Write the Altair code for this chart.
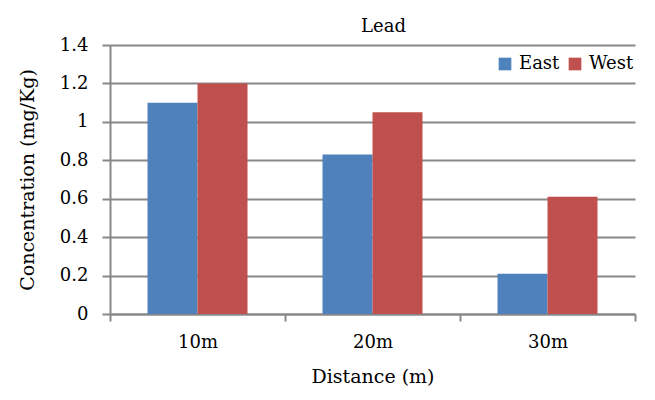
import altair as alt
import pandas as pd

distances = ["10m", "20m", "30m"]
east = [1.10, 0.83, 0.21]
west = [1.20, 1.05, 0.61]
series = ["East", "West"]
colors = ["#4F81BD", "#C0504D"]

rows = []
for d, e, w in zip(distances, east, west):
    rows.append({"Distance": d, "Site": "East", "Value": e})
    rows.append({"Distance": d, "Site": "West", "Value": w})
df = pd.DataFrame(rows)

FONT = "DejaVu Serif"
GRID = "#888888"

chart = alt.Chart(df).mark_bar().encode(
    x=alt.X("Distance:N", sort=distances,
            scale=alt.Scale(paddingInner=0, paddingOuter=0),
            axis=alt.Axis(title="Distance (m)", labelAngle=0, tickBand="extent",
                          domainColor=GRID, domainWidth=2, tickColor=GRID, tickWidth=2,
                          tickSize=7, labelPadding=12, titlePadding=16,
                          labelFontSize=18, titleFontSize=19, labelFont=FONT, titleFont=FONT,
                          labelColor="#000", titleColor="#000", titleFontWeight="normal")),
    xOffset=alt.XOffset("Site:N", sort=series,
                        scale=alt.Scale(paddingInner=0, paddingOuter=0.75)),
    y=alt.Y("Value:Q", scale=alt.Scale(domain=[0, 1.4]),
            axis=alt.Axis(title="Concentration (mg/Kg)", values=[0, 0.2, 0.4, 0.6, 0.8, 1.0, 1.2, 1.4],
                          format="~g", grid=True, gridColor=GRID, gridWidth=2,
                          domainColor=GRID, domainWidth=2, tickColor=GRID, tickWidth=2,
                          tickSize=8, labelPadding=14, titlePadding=22,
                          labelFontSize=18, titleFontSize=19, labelFont=FONT, titleFont=FONT,
                          labelColor="#000", titleColor="#000", titleFontWeight="normal")),
    color=alt.Color("Site:N", sort=series, scale=alt.Scale(domain=series, range=colors),
                    legend=alt.Legend(title=None, orient="none", legendX=386, legendY=10,
                                      direction="horizontal", symbolType="square",
                                      symbolSize=160, symbolStrokeWidth=0,
                                      labelFont=FONT, labelFontSize=18, labelColor="#000",
                                      columnPadding=6, labelOffset=5)),
).properties(
    width=525,
    height=269,
    title=alt.TitleParams("Lead", font=FONT, fontSize=18, fontWeight="normal",
                          color="#000", offset=0, dx=11),
    autosize=alt.AutoSizeParams(type="none"),
    padding={"left": 102, "top": 37, "right": 12, "bottom": 80},
).configure_view(stroke=None)

chart.save("out.html", embed_options={"renderer": "svg", "actions": False})
